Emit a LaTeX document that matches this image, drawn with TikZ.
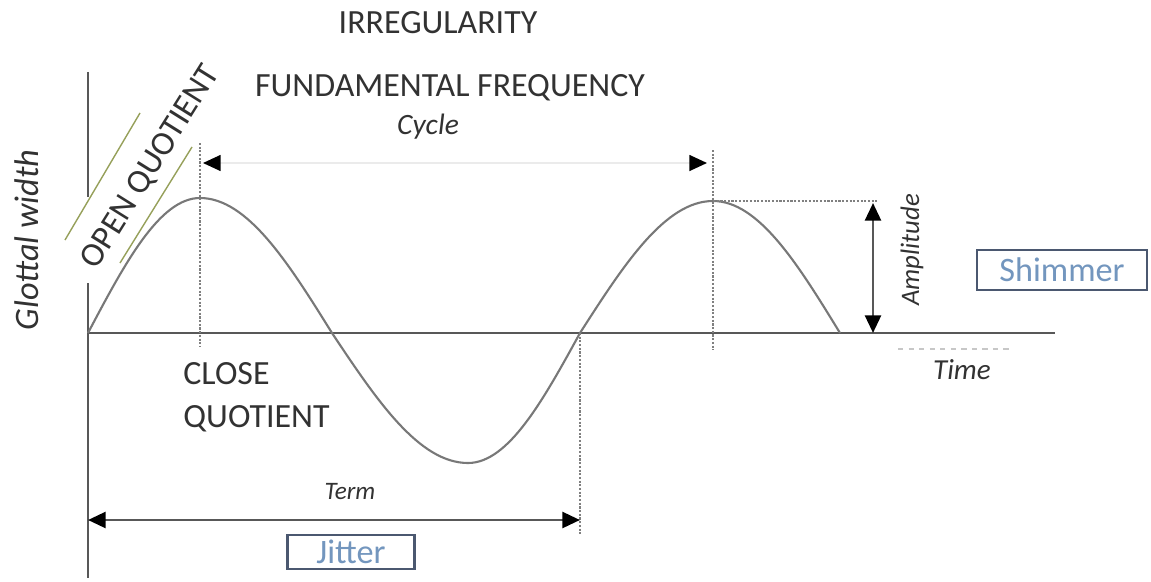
\documentclass[tikz,border=0pt]{standalone}
\usepackage{fontspec}
\setmainfont{Carlito}
\usetikzlibrary{arrows.meta}

\definecolor{axisgray}{RGB}{88,88,88}
\definecolor{curvegray}{RGB}{120,120,120}
\definecolor{textgray}{RGB}{50,50,50}
\definecolor{boxblue}{RGB}{75,88,112}
\definecolor{labelblue}{RGB}{115,150,190}
\definecolor{quotgreen}{RGB}{150,160,90}

\tikzset{
  capslabel/.style={text=textgray,inner sep=0pt,font=\fontsize{19.3}{24.4}\selectfont},
  itlabel/.style={text=textgray,inner sep=0pt,font=\itshape\fontsize{16.5}{20}\selectfont},
  measurebox/.style={draw=boxblue,line width=1.6pt,text=labelblue,inner sep=0pt,font=\fontsize{19.5}{23}\selectfont},
  guideline/.style={black!50,dash pattern=on 1.2pt off 0.9pt,line width=1.3pt},
  dimarrow/.style={arrows={Triangle[length=10pt,width=9pt,color=black]-Triangle[length=10pt,width=9pt,color=black]}}
}

\begin{document}
\begin{tikzpicture}[x=0.02cm,y=-0.02cm,line width=1.6pt]
\useasboundingbox (0,0) rectangle (1151,581);

% axes
\coordinate (origin) at (88,333);
\coordinate (ytop) at (88,72);
\coordinate (ygapa) at (88,197);
\coordinate (ygapb) at (88,283);
\coordinate (ybot) at (88,578);
\coordinate (xend) at (1055,333);
\draw[axisgray] (ytop) -- (ygapa);
\draw[axisgray] (ygapb) -- (ybot);
\draw[axisgray] (origin) -- (xend);

% glottal wave
\coordinate (peaka) at (200,198);
\coordinate (zeroa) at (332,333);
\coordinate (trough) at (468,463);
\coordinate (zerob) at (580,333);
\coordinate (peakb) at (713,201);
\coordinate (zeroc) at (840,333);
\draw[curvegray,line width=1.2pt] (origin) sin (peaka) cos (zeroa) sin (trough) cos (zerob) sin (peakb) cos (zeroc);

% dotted guides
\draw[guideline] (200,143) -- (200,347);
\draw[guideline] (713,150) -- (713,350);
\draw[guideline] (zerob) -- (580,535);
\draw[guideline] (peakb) -- (878,201);
\draw[black!22,dashed,line width=0.8pt] (898,349) -- (1013,349);

% cycle arrow
\coordinate (cyclel) at (203,163);
\coordinate (cycler) at (707,163);
\draw[dimarrow,black!8,line width=1pt] (cyclel) -- (cycler);

% amplitude arrow
\coordinate (amptop) at (873,203);
\coordinate (ampbot) at (873,333);
\draw[dimarrow,axisgray] (amptop) -- (ampbot);

% term arrow
\coordinate (terml) at (88,520);
\coordinate (termr) at (580,520);
\draw[dimarrow,axisgray] (terml) -- (termr);

% open quotient marks
\draw[quotgreen,line width=0.8pt] (65,240) -- (140,113);
\draw[quotgreen,line width=0.8pt] (120,263) -- (192,147);

% labels
\node[capslabel] (irreg) at (438,23) {IRREGULARITY};
\node[capslabel] (fundfreq) at (450,88) {FUNDAMENTAL FREQUENCY};
\node[capslabel,rotate=58] (openq) at (151,167) {OPEN QUOTIENT};
\node[capslabel,align=left,anchor=west] (closeq) at (182,397) {CLOSE\\QUOTIENT};

\node[itlabel,rotate=90,font=\itshape\fontsize{19.5}{23}\selectfont] (glottal) at (27,240) {Glottal width};
\node[itlabel,font=\itshape\fontsize{16.8}{20}\selectfont] (cycle) at (428,127) {Cycle};
\node[itlabel,rotate=90,font=\itshape\fontsize{15.2}{18}\selectfont] (amplitude) at (912,250) {Amplitude};
\node[itlabel] (time) at (962,370) {Time};
\node[itlabel,font=\itshape\fontsize{14.3}{17}\selectfont] (term) at (350,492) {Term};

\node[measurebox,minimum width=2.54cm,minimum height=0.68cm] (jitter) at (351,552) {Jitter};
\node[measurebox,minimum width=3.4cm,minimum height=0.8cm] (shimmer) at (1062,270) {Shimmer};

\end{tikzpicture}
\end{document}
